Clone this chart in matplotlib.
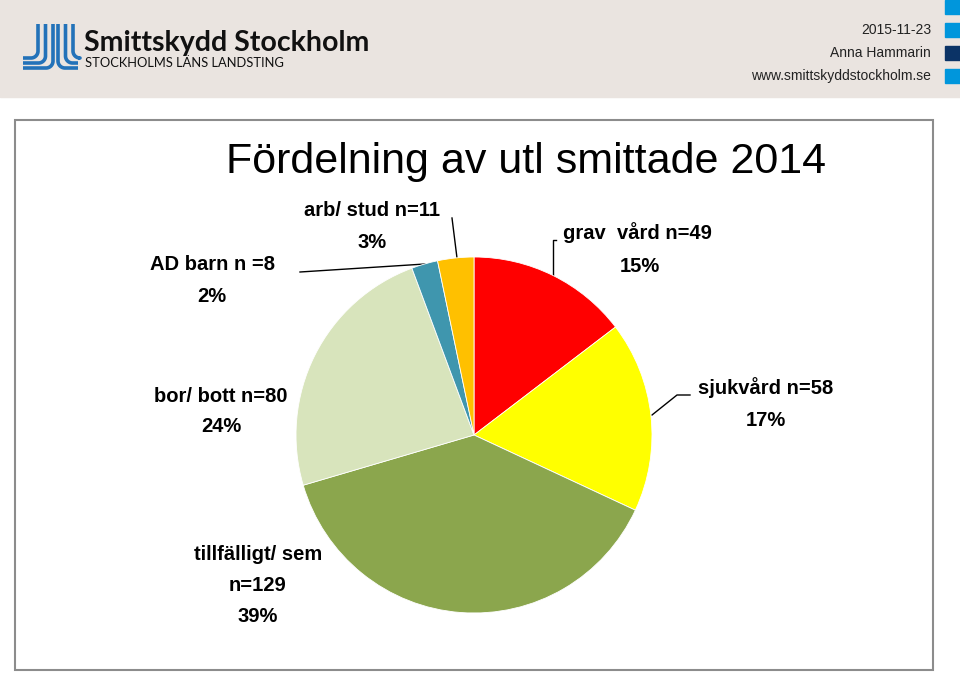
import numpy as np
import matplotlib
matplotlib.use("Agg")
import matplotlib.pyplot as plt
from matplotlib.patches import Rectangle

# data
categories = ["grav  vård n=49", "sjukvård n=58", "tillfälligt/ sem\nn=129",
              "bor/ bott n=80", "AD barn n =8", "arb/ stud n=11"]
counts = [49, 58, 129, 80, 8, 11]
pct_labels = ["15%", "17%", "39%", "24%", "2%", "3%"]
colors = ["#FF0000", "#FFFF00", "#8BA64D", "#D8E4BC", "#3F96AE", "#FFC000"]

W, H = 960, 673
fig = plt.figure(figsize=(W / 100, H / 100), dpi=100)

# background / overlay in pixel coordinates
bg = fig.add_axes([0, 0, 1, 1])
bg.set_xlim(0, W)
bg.set_ylim(H, 0)
bg.axis("off")

# header band
bg.add_patch(Rectangle((0, 0), W, 97, color="#EAE4E0", zorder=0))
for y0, c in [(0, "#0096DC"), (23, "#0096DC"), (46, "#0B3366"), (69, "#0096DC")]:
    bg.add_patch(Rectangle((945, y0), 15, 14, color=c, zorder=1))

# logo mark (three J's and three L's)
blue = "#2372B9"
r = 7
for xv, yb in [(38, 58), (45.5, 63), (53, 68)]:
    t = np.linspace(0, np.pi / 2, 20)
    xs = np.concatenate([[xv], xv - r + r * np.cos(t), [23]])
    ys = np.concatenate([[24], yb - r + r * np.sin(t), [yb]])
    bg.plot(xs, ys, color=blue, lw=2.6, solid_capstyle="butt", zorder=2)
for xv, yb in [(58, 68), (65.5, 63), (73, 58)]:
    t = np.linspace(0, np.pi / 2, 20)
    xs = np.concatenate([[xv], xv + r - r * np.cos(t), [78]])
    ys = np.concatenate([[24], yb - r + r * np.sin(t), [yb]])
    bg.plot(xs, ys, color=blue, lw=2.6, solid_capstyle="butt", zorder=2)

bg.text(84, 43, "Smittskydd Stockholm", fontsize=20.5, fontweight="bold",
        family=["Lato", "DejaVu Sans"], va="center", ha="left", color="#111111")
bg.text(85, 63, "STOCKHOLMS LÄNS LANDSTING", fontsize=9.3,
        family=["Lato", "DejaVu Sans"], va="center", ha="left", color="#111111")

for y, s in [(30, "2015-11-23"), (53, "Anna Hammarin"), (76, "www.smittskyddstockholm.se")]:
    bg.text(931, y, s, fontsize=10, family=["Liberation Sans", "DejaVu Sans"],
            ha="right", va="center", color="#222222")

# chart panel
bg.add_patch(Rectangle((15, 120), 918, 550, fill=False, edgecolor="#8C8C8C",
                       lw=1.5, zorder=1))

bg.text(526, 162, "Fördelning av utl smittade 2014", fontsize=31,
        family=["Liberation Sans", "DejaVu Sans"], ha="center", va="center", color="black")

# pie
cx, cy, rad = 474, 435, 178
pie_ax = fig.add_axes([(cx - rad) / W, (H - cy - rad) / H, 2 * rad / W, 2 * rad / H])
pie_ax.pie(counts, colors=colors, startangle=90, counterclock=False, radius=1,
           wedgeprops=dict(edgecolor="white", linewidth=0.6))
pie_ax.set_xlim(-1, 1)
pie_ax.set_ylim(-1, 1)
pie_ax.set_facecolor("none")
pie_ax.axis("off")

# labels
lab_font = dict(fontsize=14.5, fontweight="bold", family=["Liberation Sans", "DejaVu Sans"],
                ha="center", va="center", color="black")
label_pos = [(637, 233), (766, 388), (258, 570), (221, 396), (212, 265), (372, 210)]
pct_pos = [(640, 266), (766, 420), (258, 617), (221, 427), (212, 297), (372, 242)]
step = 31
for name, p, (lx, ly), (px, py) in zip(categories, pct_labels, label_pos, pct_pos):
    lines = name.split("\n")
    for i, ln in enumerate(lines):
        bg.text(lx, ly + (i - (len(lines) - 1) / 2) * step, ln, **lab_font)
    bg.text(px, py, p, **lab_font)

# leader lines
bg.plot([300, 425], [272, 264], color="black", lw=1)
bg.plot([452, 457], [218, 258], color="black", lw=1)
bg.plot([556, 553, 553], [240, 240, 276], color="black", lw=1)
bg.plot([652, 677, 690], [415, 395, 395], color="black", lw=1)

fig.savefig("out.png", dpi=100)
